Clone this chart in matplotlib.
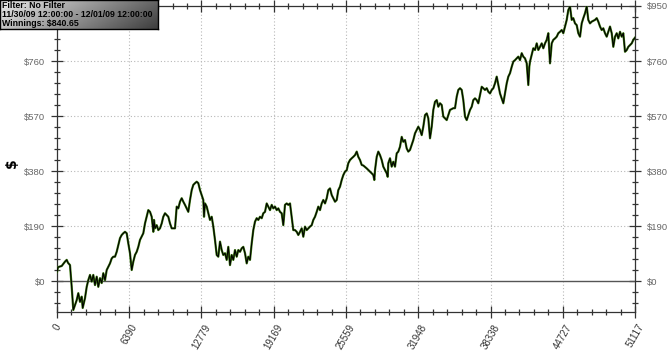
import numpy as np
import matplotlib
matplotlib.use("Agg")
import matplotlib.pyplot as plt
from matplotlib.ticker import FixedLocator

hands = [0, 88, 416, 708, 858, 973, 1150, 1300, 1442, 1742, 1884, 2034, 2184, 2273, 2476, 2627, 2768, 2919,
         3069, 3210, 3361, 3511, 3653, 3803, 3953, 4095, 4245, 4395, 4537, 4687, 4838, 4979, 5130, 5280,
         5421, 5572, 5722, 5864, 6014, 6164, 6306, 6456, 6606, 6748, 6898, 7049, 7190, 7341, 7633, 7783,
         7933, 8074, 8225, 8375, 8517, 8579, 8667, 8817, 8959, 9109, 9260, 9401, 9552, 9702, 9843, 9994,
         10144, 10286, 10436, 10586, 10728, 10878, 11028, 11170, 11320, 11471, 11612, 11763, 11913, 12054,
         12205, 12355, 12497, 12647, 12797, 12939, 13001, 13089, 13239, 13381, 13531, 13681, 13823, 13973,
         14124, 14265, 14416, 14566, 14707, 14858, 15008, 15150, 15300, 15451, 15592, 15742, 15893, 16034,
         16185, 16335, 16476, 16627, 16777, 16918, 17069, 17219, 17361, 17511, 17661, 17803, 17953, 18104,
         18245, 18395, 18546, 18687, 18838, 18988, 19129, 19280, 19430, 19572, 19722, 19872, 20014, 20164,
         20315, 20456, 20607, 20757, 20898, 21049, 21199, 21341, 21491, 21641, 21783, 21933, 22084, 22225,
         22375, 22526, 22667, 22818, 22968, 23110, 23260, 23410, 23552, 23702, 23853, 23994, 24144, 24295,
         24436, 24587, 24737, 24878, 25029, 25179, 25321, 25471, 25622, 25763, 25913, 26064, 26205, 26356,
         26506, 26647, 26798, 26948, 27090, 27240, 27390, 27682, 27833, 27974, 28063, 28125, 28275, 28416,
         28566, 28717, 28858, 29159, 29247, 29300, 29450, 29600, 29742, 29892, 30043, 30184, 30335, 30485,
         30626, 30777, 30927, 31069, 31219, 31369, 31511, 31661, 31812, 31953, 32104, 32254, 32395, 32546,
         32696, 32838, 32988, 33138, 33280, 33430, 33581, 33722, 33873, 34023, 34164, 34315, 34465, 34607,
         34757, 35049, 35199, 35350, 35491, 35641, 35792, 35933, 36084, 36234, 36375, 36526, 36676, 36818,
         36968, 37118, 37260, 37410, 37561, 37702, 37852, 38003, 38144, 38295, 38445, 38587, 38737, 38887,
         39029, 39179, 39330, 39471, 39621, 39772, 39913, 40063, 40214, 40355, 40506, 40656, 40797, 40948,
         41098, 41240, 41390, 41541, 41682, 41770, 41832, 41983, 42124, 42274, 42425, 42566, 42716, 42867,
         43008, 43159, 43309, 43450, 43601, 43751, 43893, 44043, 44193, 44335, 44485, 44636, 44777, 44927,
         45078, 45219, 45370, 45520, 45661, 45812, 45962, 46104, 46254, 46404, 46546, 46696, 46847, 46988,
         47138, 47289, 47581, 47731, 47873, 48023, 48173, 48315, 48465, 48615, 48757, 48907, 49058, 49199,
         49349, 49500, 49641, 49792, 49942, 50083, 50234, 50384, 50526, 50676, 50826, 50968, 51117]

winnings = [31, 48, 52, 67, 73, 63, 55, -20, -100, -66, -42, -72, -54, -93, -59, -20, 3, 21,
            -2, 21, -14, 15, -20, 10, -7, 27, 3, 38, 49, 61, 78, 84, 84, 101,
            124, 148, 159, 165, 170, 165, 130, 96, 38, 67, 90, 101, 118, 142, 165, 199,
            222, 245, 239, 222, 170, 211, 182, 193, 176, 182, 199, 222, 234, 228, 222, 199,
            182, 182, 182, 257, 251, 274, 286, 274, 263, 251, 239, 280, 314, 332,
            338, 343, 338, 314, 297, 280, 222, 268, 257, 234, 211, 222, 188, 142,
            90, 84, 136, 107, 90, 96, 73, 118, 55, 90, 73, 107, 84, 107,
            101, 113, 118, 96, 61, 84, 73, 130, 176, 205, 217, 211, 222, 217,
            234, 239, 268, 257, 245, 263, 251, 257, 245, 251, 239, 234, 193, 263,
            268, 263, 268, 222, 176, 176, 170, 159, 170, 182, 153, 188, 176, 182,
            188, 193, 211, 222, 239, 257, 245, 268, 280, 268, 286, 314, 320, 297,
            286, 274, 280, 314, 326, 349, 366, 378, 383, 407, 418, 424, 429, 435,
            447, 429, 418, 401, 399, 394, 389, 378, 372, 366, 349, 383, 429, 447,
            435, 418, 395, 372, 360, 407, 424, 395, 412, 395, 441, 447, 464, 498,
            481, 487, 458, 447, 453, 470, 487, 510, 522, 533, 522, 504, 533, 573,
            579, 562, 493, 533, 591, 619, 625, 602, 614, 608, 568, 562, 556, 573,
            591, 597, 597, 637, 660, 666, 660, 625, 568, 556, 573, 591, 602, 625,
            631, 625, 614, 643, 671, 666, 660, 666, 654, 648, 660, 666, 683, 706,
            677, 648, 631, 614, 648, 683, 706, 718, 740, 758, 763, 769, 775, 763,
            787, 775, 769, 752, 677, 740, 758, 781, 804, 798, 821, 798, 809, 821,
            804, 821, 833, 856, 752, 821, 833, 838, 844, 856, 861, 867, 856, 879,
            902, 936, 948, 902, 908, 890, 884, 856, 844, 890, 908, 925, 948, 902,
            890, 896, 902, 908, 896, 879, 867, 873, 856, 844, 861, 879, 856, 809,
            844, 856, 838, 861, 844, 856, 792, 798, 809, 815, 821, 833, 840.65]

x_ticks = [0, 6390, 12779, 19169, 25559, 31948, 38338, 44727, 51117]
x_tick_labels = ["0", "6390", "12779", "19169", "25559", "31948", "38338", "44727", "51117"]
y_ticks = [0, 190, 380, 570, 760, 950]
y_tick_labels = ["$0", "$190", "$380", "$570", "$760", "$950"]
info_lines = ["Filter: No Filter", "11/30/09 12:00:00 - 12/01/09 12:00:00", "Winnings: $840.65"]

FONT = ["Liberation Sans", "DejaVu Sans"]
W, H = 670, 351
fig = plt.figure(figsize=(W / 100, H / 100), dpi=100)
fig.patch.set_facecolor("white")

ax = fig.add_axes([57 / W, (H - 312) / H, (635 - 57) / W, (312 - 6) / H])
ax.set_xlim(0, 51117)
ax.set_ylim(-107, 950)

# grid
for xv in x_ticks[1:-1]:
    ax.axvline(xv, color="#b8b8b8", lw=0.8, ls=(0, (1, 2)), zorder=1)
for yv in y_ticks[1:-1]:
    ax.axhline(yv, color="#b8b8b8", lw=0.8, ls=(0, (1, 2)), zorder=1)
ax.axhline(0, color="#555555", lw=1.0, zorder=2)

ax.plot(hands, winnings, color="#3d7a12", lw=1.6, zorder=3, solid_joinstyle="round")
ax.plot(hands, winnings, color="#000000", lw=0.8, zorder=4, solid_joinstyle="round")

ax.xaxis.set_major_locator(FixedLocator(x_ticks))
ax.set_xticklabels(x_tick_labels, rotation=60, ha="center", fontsize=7,
                   family=FONT, color="#333333")
ax.xaxis.set_minor_locator(FixedLocator([51117 / 40 * i for i in range(41) if i % 5]))
ax.yaxis.set_major_locator(FixedLocator(y_ticks))
ax.set_yticklabels(y_tick_labels, fontsize=6.8, family=FONT, color="#666666")
ax.yaxis.set_minor_locator(FixedLocator([38 * i for i in range(-2, 25) if i % 5]))

ax.tick_params(axis="both", which="major", direction="inout", length=9, width=0.9, color="#333333")
ax.tick_params(axis="both", which="minor", direction="inout", length=5, width=0.9, color="#333333")
ax.tick_params(axis="y", which="both", left=True, right=True, labelleft=True, labelright=True)
ax.tick_params(axis="y", which="major", pad=4)
ax.tick_params(axis="x", which="both", bottom=True, top=True, pad=3)
for s in ax.spines.values():
    s.set_color("#333333")
    s.set_linewidth(0.9)
# the left-hand top label sits hidden under the info box in the reference
ax.yaxis.get_major_ticks()[-1].label1.set_visible(False)

fig.text(12 / W, 1 - 163 / H, "$", rotation=90, fontsize=10, fontweight="bold",
         ha="center", va="center", color="black")

# info box
bax = fig.add_axes([0, 1 - 29 / H, 158 / W, 29 / H])
gx = np.linspace(0, 1, 200)
gy = np.linspace(0, 1, 30)
GX, GY = np.meshgrid(gx, gy)
grad = 0.86 - 0.62 * np.clip(0.85 * GX + 0.25 * GY - 0.1, 0, 1)
bax.imshow(grad, cmap="gray", vmin=0, vmax=1, aspect="auto", extent=(0, 1, 0, 1), origin="upper")
bax.set_xlim(0, 1)
bax.set_ylim(0, 1)
bax.set_xticks([])
bax.set_yticks([])
for s in bax.spines.values():
    s.set_color("black")
    s.set_linewidth(1.0)
bax.text(0.012, 0.5, "\n".join(info_lines), fontsize=6.3, family=FONT, fontweight="bold",
         color="black", ha="left", va="center", linespacing=1.05, transform=bax.transAxes)

fig.savefig("out.png", dpi=100)
